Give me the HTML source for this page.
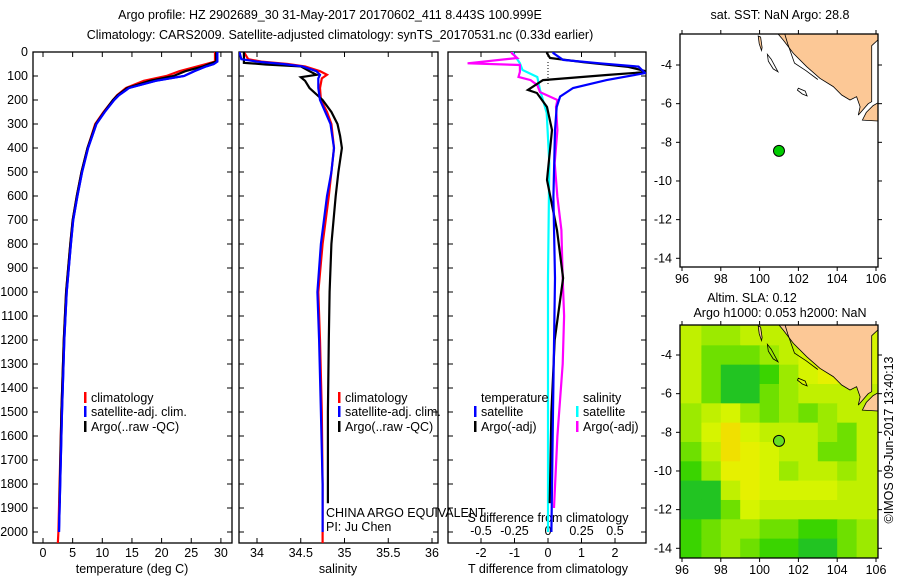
<!DOCTYPE html>
<html><head><meta charset="utf-8">
<style>
html,body{margin:0;padding:0;background:#fff;}
svg{display:block;font-family:"Liberation Sans",sans-serif;}
text{font-size:12.5px;fill:#000;}
</style></head>
<body>
<svg id="chart" width="900" height="580" viewBox="0 0 900 580" xmlns="http://www.w3.org/2000/svg">
<defs>
<clipPath id="c1"><rect x="33" y="52" width="199" height="491"/></clipPath>
<clipPath id="c2"><rect x="239" y="52" width="199" height="491"/></clipPath>
<clipPath id="c3"><rect x="448" y="52" width="198" height="491"/></clipPath>
<clipPath id="cm1"><rect x="680" y="34" width="198" height="233"/></clipPath>
<clipPath id="cm2"><rect x="680" y="325" width="198" height="233"/></clipPath>
</defs>
<text x="330" y="19" text-anchor="middle">Argo profile: HZ 2902689_30 31-May-2017 20170602_411 8.443S 100.999E</text>
<text x="340" y="39" text-anchor="middle">Climatology: CARS2009. Satellite-adjusted climatology: synTS_20170531.nc (0.33d earlier)</text>
<g id="g1"></g>
<g id="g2"></g>
<g id="g3"></g>
<g id="m1"></g>
<g id="m2"></g>
<text transform="translate(893,440) rotate(-90)" text-anchor="middle">©IMOS 09-Jun-2017 13:40:13</text>
</svg>
<script>
// ---- Temperature data ----
const tDepthClim = [0,40,50,60,80,100,120,150,180,200,250,300,400,500,600,700,800,1000,1200,1500,1800,2000,2050];
const tClim = [29,29,27.5,26,23,20.8,17,14,12.5,11.8,10.2,8.8,7.5,6.5,5.7,5.0,4.6,3.9,3.5,3.1,2.8,2.6,2.5];
const tDepthSat = [0,40,50,60,80,100,120,150,180,200,250,300,400,500,600,700,800,1000,1200,1500,1800,2000];
const tSat = [29.4,29.4,28.8,27.5,25.5,23.8,19,14.5,12.8,12,10.4,9,7.6,6.6,5.8,5.1,4.7,4.0,3.6,3.2,2.9,2.7];
const tDepthArgo = [0,40,50,60,80,100,120,150,180,200,250,300,400,500,600,700,800,1000,1200,1500,1800,1880];
const tArgo = [29.2,29.2,28,27,24,22,18,14.2,12.6,11.8,10.3,8.9,7.5,6.5,5.7,5.0,4.6,3.9,3.5,3.1,2.85,2.8];
// ---- Salinity data ----
const sDepthClim = [0,30,40,50,60,80,95,110,150,200,250,300,400,500,600,800,1000,1200,1500,1800,2000,2050];
const sClim = [33.85,33.9,34.05,34.35,34.55,34.72,34.8,34.74,34.72,34.73,34.8,34.85,34.88,34.85,34.82,34.75,34.7,34.72,34.74,34.75,34.75,34.75];
const sDepthSat = [0,30,40,50,60,80,95,110,150,200,250,300,400,500,600,800,1000,1200,1500,1800,2000];
const sSat = [33.8,33.82,34.0,34.3,34.52,34.68,34.72,34.7,34.7,34.72,34.78,34.84,34.88,34.85,34.8,34.73,34.69,34.71,34.73,34.75,34.75];
const sDepthArgo = [0,45,52,60,80,95,105,120,150,200,250,300,350,400,500,600,800,1000,1200,1500,1880];
const sArgo = [33.85,33.85,34.1,34.5,34.6,34.68,34.5,34.55,34.6,34.75,34.85,34.92,34.95,34.97,34.93,34.9,34.85,34.83,34.82,34.81,34.81];
// ---- Difference data ----
const dDepthTSat = [0,5,33,47,61,88,117,150,186,229,325,604,942,1500,2000];
const dTSat = [0.16,0.16,0.45,1.55,2.7,2.9,1.75,0.75,0.36,0.26,0.21,0.16,0.21,0.15,0.1];
const dDepthTArgo = [0,5,25,42,62,83,96,117,158,171,229,325,533,742,942,1200,1500,1880];
const dTArgo = [-0.03,-0.03,0.06,1.05,2.4,3.0,1.75,-0.15,-0.6,-0.33,-0.03,0.12,-0.03,0.27,0.45,0.2,0.1,0.05];
const dDepthSSat = [0,5,47,75,104,158,254,463,942,1500,2000];
const dSSat = [-0.26,-0.26,-0.21,-0.19,-0.08,-0.06,-0.01,0.01,0.0,0.0,0.0];
const dDepthSArgo = [0,5,25,47,54,83,104,117,138,167,200,229,325,463,604,742,942,1100,1300,1600,1900];
const dSArgo = [-0.27,-0.27,-0.23,-0.6,-0.21,-0.21,-0.22,-0.13,-0.08,-0.06,0.07,0.06,0.07,0.05,0.07,0.1,0.11,0.12,0.11,0.07,0.045];
// ---- Tick labels ----
const depthTicks = [0,100,200,300,400,500,600,700,800,900,1000,1100,1200,1300,1400,1500,1600,1700,1800,1900,2000];
const tempTicks = [0,5,10,15,20,25,30];
const salTicks = [34,34.5,35,35.5,36];
const tDiffTicks = [-2,-1,0,1,2];
const sDiffTicks = [-0.5,-0.25,0,0.25,0.5];
const lonTicks = [96,98,100,102,104,106];
const latTicks = [-4,-6,-8,-10,-12,-14];
// ---- SLA grid (1 deg cells, rows from -2.5 southward, cols from 96E) level 0..9 ----
const slaRows = [
 "5445556666","5333456666","5311246766","5311345555","4564343455",
 "4686555435","3587655335","2477645545","1157666655","1136555555",
 "2344332234","2343221134"];
const slaColors = ["#10b830","#22c422","#3ad400","#6ee000","#9cea00","#c0f000","#d6f400","#e6f000","#f0e000","#f0c800"];
const floatLon = 100.999, floatLat = -8.443;
const landMain = [[100.96,-2.4],[101.22,-2.71],[101.74,-3.4],[102.43,-4.09],[103.11,-4.69],[103.8,-5.12],[104.23,-5.55],[104.66,-5.81],[105.0,-5.64],[105.18,-6.16],[105.09,-6.59],[105.6,-6.0],[105.78,-5.9],[105.78,-3.0],[106.1,-2.7],[106.2,-2.4]];
const landJava = [[105.3,-6.85],[106.2,-6.9],[106.2,-5.9],[105.85,-6.1],[105.5,-6.45]];
const landIsle = [[99.93,-2.5],[100.05,-2.55],[100.13,-3.1],[100.1,-3.25],[99.98,-2.9]];
const isobath = [[101.3,-2.4],[101.45,-2.9],[101.8,-3.9],[102.4,-4.3],[103.0,-4.75]];
const isleA = [[100.4,-3.45],[100.6,-3.7],[100.95,-4.35],[100.7,-4.2],[100.45,-3.8]];
const isleB = [[102.0,-5.2],[102.35,-5.35],[102.45,-5.6],[102.2,-5.5],[101.95,-5.3]];

const NS="http://www.w3.org/2000/svg";
function mk(parent,tag,attrs,txt){const e=document.createElementNS(NS,tag);for(const k in attrs)e.setAttribute(k,attrs[k]);if(txt!==undefined)e.textContent=txt;parent.appendChild(e);return e;}
const yD = d => 52 + d*0.24;
const xT = t => 43 + t*5.93;
const xS = s => 257 + (s-34)*87.5;
const xdT = t => 548 + t*33.5;
const xdS = s => 548 + s*134;
const lonX = l => 682 + (l-96)*19.4;
const latY1 = la => 65 + (-4-la)*19.33;
const latY2 = la => 355 + (-4-la)*19.33;

function frame(g,x0,x1,name){
  const r=mk(g,'rect',{x:x0,y:52,width:x1-x0,height:491,fill:'none',stroke:'#000','stroke-width':1.3});
  
  
  depthTicks.forEach(d=>{
    mk(g,'line',{x1:x0,x2:x0+5,y1:yD(d),y2:yD(d),stroke:'#000'});
    mk(g,'line',{x1:x1,x2:x1-5,y1:yD(d),y2:yD(d),stroke:'#000'});
  });
}
function series(g,clip,xs,ds,xf,color,name){
  const pts=xs.map((v,i)=>xf(v).toFixed(1)+','+yD(ds[i]).toFixed(1)).join(' ');
  const p=mk(g,'polyline',{points:pts,fill:'none',stroke:color,'stroke-width':2.2,'clip-path':'url(#'+clip+')'});
  
  
}
function legend(g,x,y,color,label,name){
  mk(g,'rect',{x:x,y:y-10,width:2.5,height:11,fill:color});
  const t=mk(g,'text',{x:x+7,y:y},label);
  
  
}
// Panel 1
const g1=document.getElementById('g1');
frame(g1,33,232,'temperature');
depthTicks.forEach(d=>{
  const t=mk(g1,'text',{x:28,y:yD(d)+4,'text-anchor':'end'},String(d));
  
  
});
tempTicks.forEach(v=>{mk(g1,'line',{x1:xT(v),x2:xT(v),y1:543,y2:538,stroke:'#000'});mk(g1,'line',{x1:xT(v),x2:xT(v),y1:52,y2:57,stroke:'#000'});
  const t=mk(g1,'text',{x:xT(v),y:557,'text-anchor':'middle'},String(v));
  
  });
mk(g1,'text',{x:132,y:573,'text-anchor':'middle'},'temperature (deg C)');
series(g1,'c1',tClim,tDepthClim,xT,'#f00','temperature-climatology-line');
series(g1,'c1',tSat,tDepthSat,xT,'#00f','temperature-satellite-line');
series(g1,'c1',tArgo,tDepthArgo,xT,'#000','temperature-argo-line');
series(g1,'c1',tSat,tDepthSat,xT,'#00f','temperature-satellite-line-top');
legend(g1,84,402,'#f00','climatology','legend-climatology');
legend(g1,84,416,'#00f','satellite-adj. clim.','legend-satellite');
legend(g1,84,431,'#000','Argo(..raw -QC)','legend-argo');
// Panel 2
const g2=document.getElementById('g2');
frame(g2,239,438,'salinity');
salTicks.forEach(v=>{mk(g2,'line',{x1:xS(v),x2:xS(v),y1:543,y2:538,stroke:'#000'});mk(g2,'line',{x1:xS(v),x2:xS(v),y1:52,y2:57,stroke:'#000'});
  const t=mk(g2,'text',{x:xS(v),y:557,'text-anchor':'middle'},String(v));
  
  });
mk(g2,'text',{x:338,y:573,'text-anchor':'middle'},'salinity');
series(g2,'c2',sClim,sDepthClim,xS,'#f00','salinity-climatology-line');
series(g2,'c2',sArgo,sDepthArgo,xS,'#000','salinity-argo-line');
series(g2,'c2',sSat,sDepthSat,xS,'#00f','salinity-satellite-line');
legend(g2,338,402,'#f00','climatology','legend-climatology-s');
legend(g2,338,416,'#00f','satellite-adj. clim.','legend-satellite-s');
legend(g2,338,431,'#000','Argo(..raw -QC)','legend-argo-s');
mk(g2,'text',{x:326,y:517},'CHINA ARGO EQUIVALENT');
mk(g2,'text',{x:326,y:531},'PI: Ju Chen');
// Panel 3
const g3=document.getElementById('g3');
frame(g3,448,646,'difference');
tDiffTicks.forEach(v=>{mk(g3,'line',{x1:xdT(v),x2:xdT(v),y1:543,y2:538,stroke:'#000'});
  const t=mk(g3,'text',{x:xdT(v),y:557,'text-anchor':'middle'},String(v));
  
  });
sDiffTicks.forEach(v=>{mk(g3,'line',{x1:xdS(v),x2:xdS(v),y1:52,y2:57,stroke:'#000'});
  const t=mk(g3,'text',{x:xdS(v),y:535,'text-anchor':'middle'},String(v));
  
  });
mk(g3,'text',{x:548,y:573,'text-anchor':'middle'},'T difference from climatology');
mk(g3,'text',{x:548,y:522,'text-anchor':'middle'},'S difference from climatology');
mk(g3,'line',{x1:548,x2:548,y1:62,y2:85,stroke:'#000','stroke-dasharray':'1,2'});
series(g3,'c3',dSSat,dDepthSSat,xdS,'#0ff','s-diff-satellite-line');
series(g3,'c3',dSArgo,dDepthSArgo,xdS,'#f0f','s-diff-argo-line');
series(g3,'c3',dTArgo,dDepthTArgo,xdT,'#000','t-diff-argo-line');
series(g3,'c3',dTSat,dDepthTSat,xdT,'#00f','t-diff-satellite-line');
mk(g3,'text',{x:481,y:402},'temperature');
mk(g3,'text',{x:583,y:402},'salinity');
legend(g3,474,416,'#00f','satellite','legend-t-satellite');
legend(g3,474,431,'#000','Argo(-adj)','legend-t-argo');
legend(g3,576,416,'#0ff','satellite','legend-s-satellite');
legend(g3,576,431,'#f0f','Argo(-adj)','legend-s-argo');
// Maps
function pts(arr,yf){return arr.map(p=>lonX(p[0]).toFixed(1)+','+yf(p[1]).toFixed(1)).join(' ');}
function map(g,top,yf,clip,heat){
  const bot=top+233;
  if(heat){
    slaRows.forEach((row,r)=>{
      [...row].forEach((ch,c)=>{
        const la0=-2.5-r, lo0=96+c;
        const y0 = r===0?top:yf(la0), y1 = r===slaRows.length-1?bot:yf(la0-1);
        const x0 = c===0?680:lonX(lo0), x1 = c===row.length-1?878:lonX(lo0+1);
        const cell=mk(g,'rect',{x:x0,y:y0,width:x1-x0+0.5,height:y1-y0+0.5,fill:slaColors[+ch],'clip-path':'url(#'+clip+')'});
        
        
      });
    });
  }
  const lg=mk(g,'g',{'clip-path':'url(#'+clip+')'});
  [landMain,landJava,landIsle].forEach(a=>mk(lg,'polygon',{points:pts(a,yf),fill:'#fcc896',stroke:'#000','stroke-width':0.8}));
  [isleA,isleB].forEach(a=>mk(lg,'polygon',{points:pts(a,yf),fill:'none',stroke:'#000','stroke-width':0.8}));
  mk(lg,'polyline',{points:pts(isobath,yf),fill:'none',stroke:'#000','stroke-width':0.8});
  mk(g,'rect',{x:680,y:top,width:198,height:233,fill:'none',stroke:'#000','stroke-width':1.3});
  lonTicks.forEach(l=>{mk(g,'line',{x1:lonX(l),x2:lonX(l),y1:bot,y2:bot+4,stroke:'#000'});mk(g,'line',{x1:lonX(l),x2:lonX(l),y1:top,y2:top-4,stroke:'#000'});
    const t=mk(g,'text',{x:lonX(l),y:bot+16,'text-anchor':'middle'},String(l));
    
    });
  latTicks.forEach(la=>{mk(g,'line',{x1:676,x2:680,y1:yf(la),y2:yf(la),stroke:'#000'});mk(g,'line',{x1:878,x2:882,y1:yf(la),y2:yf(la),stroke:'#000'});
    const t=mk(g,'text',{x:672,y:yf(la)+4,'text-anchor':'end'},String(la));
    
    });
  const dot=mk(g,'circle',{cx:lonX(floatLon),cy:yf(floatLat),r:5.5,fill:heat?'#66dd22':'#00cc00',stroke:'#000','stroke-width':1});
  
  
}
const m1=document.getElementById('m1'), m2=document.getElementById('m2');
map(m1,34,latY1,'cm1',false);
map(m2,325,latY2,'cm2',true);
mk(m1,'text',{x:780,y:19,'text-anchor':'middle'},'sat. SST: NaN Argo: 28.8');
mk(m2,'text',{x:752,y:302,'text-anchor':'middle'},'Altim. SLA: 0.12');
mk(m2,'text',{x:780,y:317,'text-anchor':'middle'},'Argo h1000: 0.053 h2000: NaN');
</script>
</body></html>
